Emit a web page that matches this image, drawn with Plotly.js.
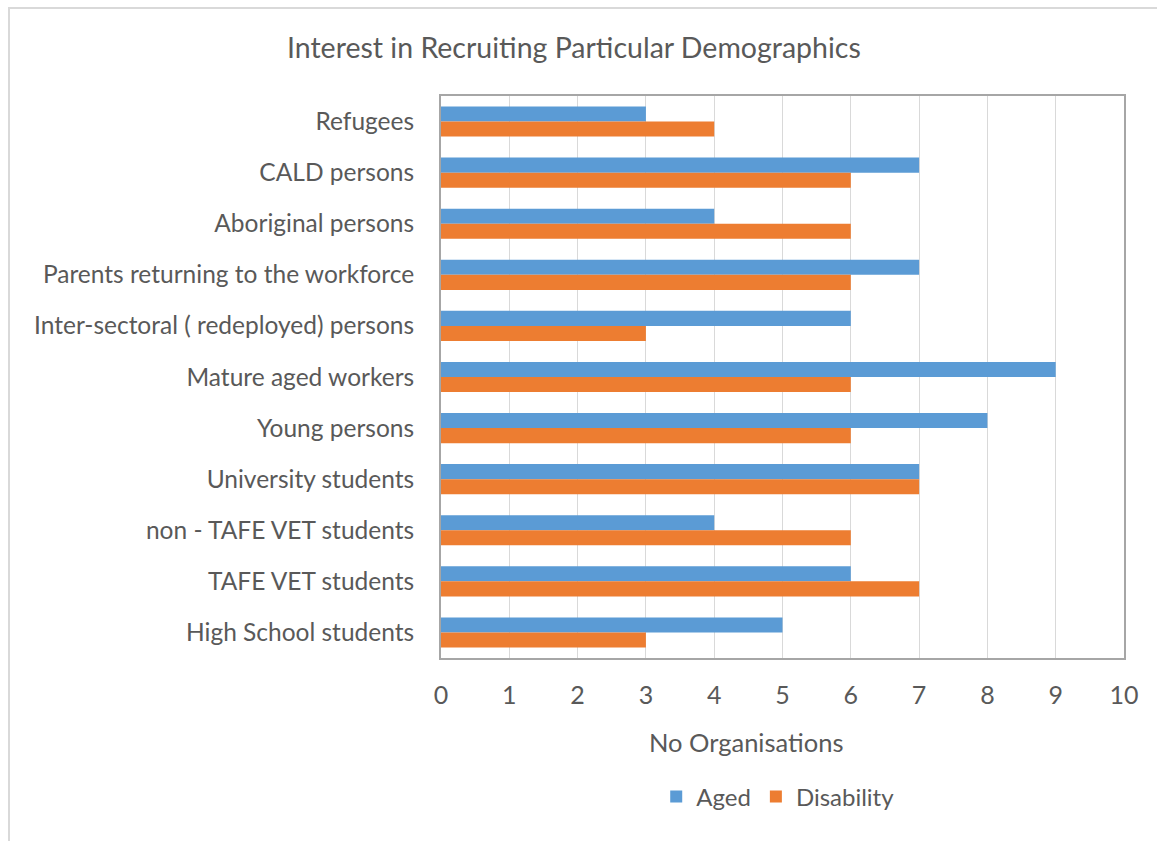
<!DOCTYPE html>
<html>
<head>
<meta charset="utf-8">
<script src="https://cdn.plot.ly/plotly-3.0.1.min.js"></script>
<style>
  html, body { margin: 0; padding: 0; background: #ffffff; }
  #chart { position: absolute; left: 0; top: 0; width: 1157px; height: 841px; }
  #frame { position: absolute; left: 8px; top: 7px; width: 1200px; height: 900px;
           border-left: 2px solid #d9d9d9; border-top: 2px solid #d9d9d9; pointer-events: none; }
</style>
</head>
<body>
<div id="chart"></div>
<div id="frame"></div>
<script>
const categories = [
  "Refugees",
  "CALD persons",
  "Aboriginal persons",
  "Parents returning to the workforce",
  "Inter-sectoral ( redeployed) persons",
  "Mature aged workers",
  "Young persons",
  "University students",
  "non - TAFE VET students",
  "TAFE VET students",
  "High School students"
];
const aged =       [3, 7, 4, 7, 6, 9, 8, 7, 4, 6, 5];
const disability = [4, 6, 6, 6, 3, 6, 6, 7, 6, 7, 3];
const xTicks = [0, 1, 2, 3, 4, 5, 6, 7, 8, 9, 10];

const FONT = "Lato, 'Open Sans', sans-serif";
const GRAY = "#595959";

const traces = [
  { type: "bar", orientation: "h", name: "Aged", y: categories, x: aged,
    marker: { color: "#5B9BD5" } },
  { type: "bar", orientation: "h", name: "Disability", y: categories, x: disability,
    marker: { color: "#ED7D31" } }
];

const layout = {
  width: 1157, height: 841,
  paper_bgcolor: "#ffffff", plot_bgcolor: "#ffffff",
  margin: { l: 441, r: 33, t: 96, b: 183 },
  font: { family: FONT, color: GRAY },
  barmode: "group", bargap: 0.41, bargroupgap: 0,
  title: { text: "Interest in Recruiting Particular Demographics",
           font: { family: FONT, size: 28.5, color: GRAY },
           xref: "container", x: 0.496, xanchor: "center",
           yref: "container", y: 0.943, yanchor: "middle" },
  xaxis: { range: [0, 10], tickvals: xTicks, ticktext: xTicks.map(String),
           showgrid: true, gridcolor: "#d9d9d9", gridwidth: 1,
           showline: true, linecolor: "#a6a6a6", linewidth: 2, mirror: true,
           zeroline: false, ticks: "outside", ticklen: 14, tickcolor: "rgba(0,0,0,0)",
           tickfont: { family: FONT, size: 25, color: GRAY }, fixedrange: true },
  yaxis: { categoryorder: "array", categoryarray: categories, autorange: "reversed",
           showgrid: false, showline: true, linecolor: "#a6a6a6", linewidth: 2, mirror: true,
           ticks: "outside", ticklen: 20, tickcolor: "rgba(0,0,0,0)",
           tickfont: { family: FONT, size: 24.5, color: GRAY }, fixedrange: true },
  annotations: [
    { text: "No Organisations", xref: "paper", yref: "paper",
      x: 0.446, y: (658 - 742) / 562, xanchor: "center", yanchor: "middle",
      showarrow: false, font: { family: FONT, size: 25.5, color: GRAY } }
  ],
  showlegend: true,
  legend: { orientation: "h", xref: "paper", yref: "paper",
            x: 0.493, y: (658 - 797) / 562, xanchor: "center", yanchor: "middle",
            font: { family: FONT, size: 24, color: GRAY }, itemwidth: 30, tracegroupgap: 0 }
};

Plotly.newPlot("chart", traces, layout, { displayModeBar: false, staticPlot: true });
</script>
</body>
</html>
